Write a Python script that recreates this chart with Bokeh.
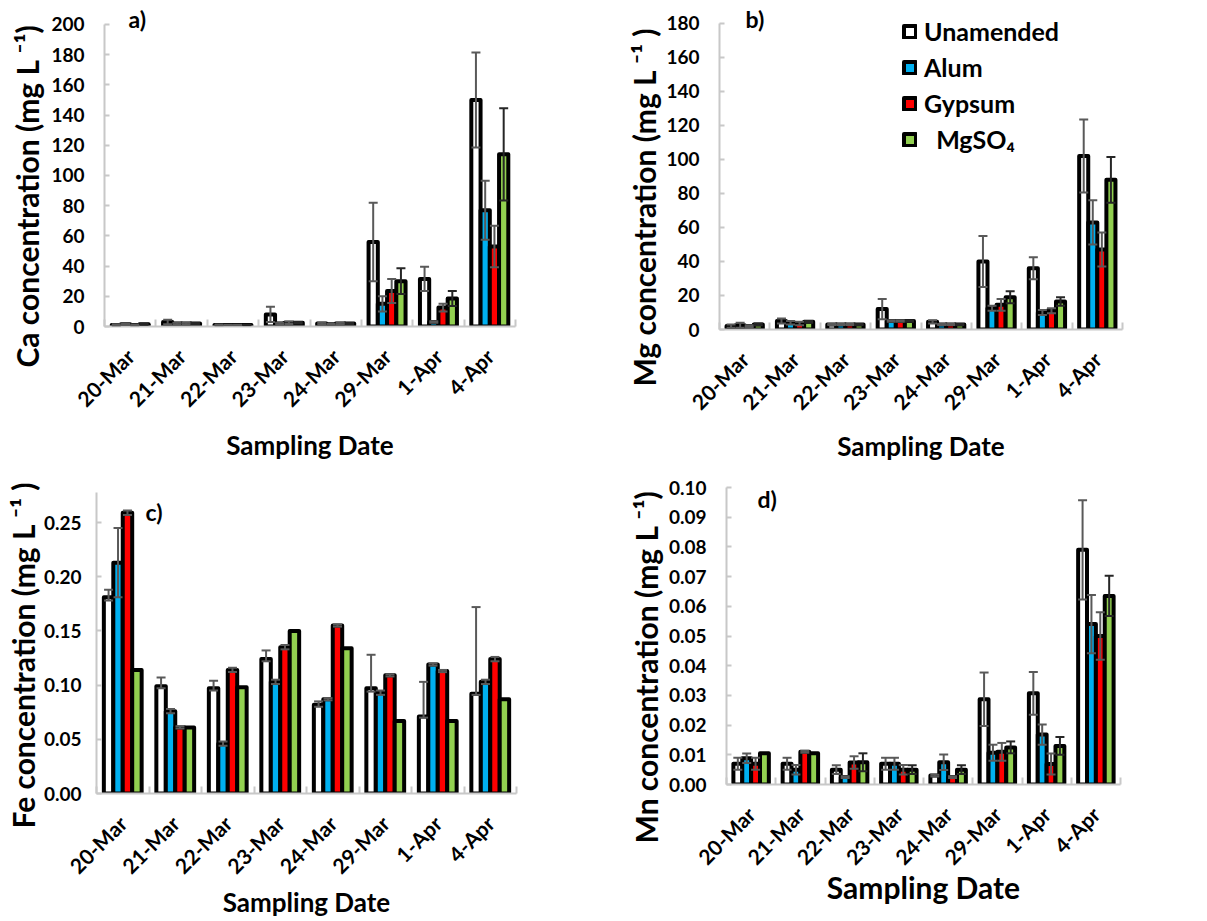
import numpy as np
from bokeh.plotting import figure
from bokeh.models import (ColumnDataSource, Range1d, FixedTicker, Whisker, TeeHead,
                          Label, Legend, LegendItem, CustomJSTickFormatter,
                          PrintfTickFormatter, Title)
from bokeh.layouts import row, column
from bokeh.embed import file_html
from bokeh.resources import INLINE

# ---------------------------------------------------------------- data
dates = ["20-Mar", "21-Mar", "22-Mar", "23-Mar", "24-Mar", "29-Mar", "1-Apr", "4-Apr"]
treatments = ["Unamended", "Alum", "Gypsum", "MgSO4"]
legend_labels = ["Unamended", "Alum", "Gypsum", "\u00a0\u00a0MgSO\u2084"]

# Ca (mg/L)
ca_unamended = [1.0, 3.0, 1.0, 8.0, 2.0, 56.0, 31.5, 150.0]
ca_alum = [1.5, 2.0, 1.0, 2.0, 1.5, 15.0, 3.0, 77.0]
ca_gypsum = [1.0, 2.0, 1.0, 2.5, 2.0, 23.5, 12.5, 53.0]
ca_mgso4 = [1.5, 2.0, 1.0, 2.5, 2.0, 30.0, 18.5, 114.0]
ca_unamended_err = [0.5, 1.5, 0.3, 5.0, 0.5, 26.0, 8.0, 31.5]
ca_alum_err = [0.3, 0.5, 0.2, 0.5, 0.3, 5.0, 0.5, 19.5]
ca_gypsum_err = [0.3, 0.5, 0.2, 0.8, 0.5, 8.0, 2.5, 13.7]
ca_mgso4_err = [0.3, 0.4, 0.2, 0.5, 0.3, 8.5, 5.0, 30.5]

# Mg (mg/L)
mg_unamended = [2.0, 5.0, 3.0, 12.0, 4.5, 40.0, 36.0, 102.0]
mg_alum = [2.5, 4.0, 3.0, 5.0, 3.0, 12.5, 10.0, 63.0]
mg_gypsum = [2.0, 3.5, 3.0, 5.0, 3.0, 14.5, 11.0, 47.0]
mg_mgso4 = [3.0, 4.5, 3.0, 5.0, 3.0, 19.0, 16.5, 88.0]
mg_unamended_err = [1.0, 1.5, 0.3, 6.0, 1.0, 15.0, 6.5, 21.5]
mg_alum_err = [1.5, 1.0, 0.3, 0.5, 0.3, 1.5, 1.5, 13.0]
mg_gypsum_err = [0.5, 1.0, 0.3, 0.5, 0.3, 3.5, 1.5, 10.0]
mg_mgso4_err = [0.5, 0.5, 0.3, 0.5, 0.3, 3.5, 2.5, 13.5]

# Fe (mg/L)
fe_unamended = [0.181, 0.099, 0.097, 0.124, 0.082, 0.097, 0.071, 0.092]
fe_alum = [0.213, 0.076, 0.046, 0.103, 0.087, 0.093, 0.119, 0.103]
fe_gypsum = [0.259, 0.061, 0.114, 0.135, 0.155, 0.109, 0.113, 0.124]
fe_mgso4 = [0.114, 0.061, 0.098, 0.150, 0.134, 0.067, 0.067, 0.087]
fe_unamended_err_hi = [0.007, 0.008, 0.007, 0.008, 0.003, 0.031, 0.032, 0.080]
fe_unamended_err_lo = [0.003, 0.002, 0.002, 0.002, 0.002, 0.003, 0.001, 0.001]
fe_alum_err = [0.032, 0.002, 0.002, 0.002, 0.001, 0.002, 0.001, 0.002]
fe_gypsum_err = [0.002, 0.001, 0.002, 0.002, 0.001, 0.001, 0.001, 0.002]
fe_mgso4_err = [0, 0, 0, 0, 0, 0, 0, 0]

# Mn (mg/L)
mn_unamended = [0.007, 0.007, 0.005, 0.007, 0.003, 0.0287, 0.0307, 0.079]
mn_alum = [0.0088, 0.005, 0.0025, 0.007, 0.0075, 0.0107, 0.0168, 0.054]
mn_gypsum = [0.007, 0.011, 0.0074, 0.005, 0.0025, 0.011, 0.0069, 0.050]
mn_mgso4 = [0.0105, 0.0105, 0.0075, 0.005, 0.005, 0.0125, 0.013, 0.0635]
mn_unamended_err = [0.002, 0.002, 0.0015, 0.002, 0.0003, 0.009, 0.0072, 0.0167]
mn_alum_err = [0.0016, 0.0016, 0.0003, 0.002, 0.0026, 0.0027, 0.0034, 0.0098]
mn_gypsum_err = [0.002, 0.0003, 0.0021, 0.0016, 0.0003, 0.003, 0.0035, 0.008]
mn_mgso4_err = [0, 0, 0.003, 0.0015, 0.0015, 0.002, 0.003, 0.0068]

# ---------------------------------------------------------------- style
FONT = "Lato"
fills = ["#FFFFFF", "#00B0F0", "#FF0000", "#92D050"]
err_colors = ["#595959", "#595959", "#595959", "#262626"]
axis_gray = "#C8C8C8"
offsets = [-0.27, -0.09, 0.09, 0.27]
bar_w = 0.18


def build_panel(series, err_hi, err_lo, axis_top, y_ticks, y_fmt, size, geom,
                ytitle, ytitle_offset, ytitle_standoff, ytick_standoff,
                xtitle_size, xtitle_standoff, tag, tag_xy,
                with_legend=False, legend_xy=(0, 0)):
    """geom = (left, right, frame_top, top_tick_px, zero_px) in figure pixels."""
    width, height = size
    left, right, frame_top, top_tick_px, zero_px = geom
    # the frame reaches a little above the last tick so the panel letter fits;
    # the axis line itself stops at axis_top (see bounds below)
    y_end = axis_top * (zero_px - frame_top) / (zero_px - top_tick_px)
    n = len(dates)
    p = figure(width=width, height=height, output_backend="svg", toolbar_location=None,
               x_range=Range1d(0, n), y_range=Range1d(0, y_end),
               min_border_left=left, min_border_right=right,
               min_border_top=frame_top, min_border_bottom=height - zero_px)
    p.outline_line_color = None
    p.xgrid.visible = False
    p.ygrid.visible = False
    p.background_fill_color = "white"
    p.border_fill_color = "white"

    centers = np.arange(n) + 0.5
    renderers = []
    for k in range(4):
        src = ColumnDataSource(dict(x=centers + offsets[k], top=series[k]))
        r = p.vbar(x="x", top="top", width=bar_w, bottom=0, source=src,
                   fill_color=fills[k], line_color="black", line_width=4,
                   line_join="round")
        renderers.append(r)

    for k in range(4):
        xs, hi, lo = [], [], []
        for i in range(n):
            if err_hi[k][i] > 0:
                xs.append(centers[i] + offsets[k])
                hi.append(series[k][i] + err_hi[k][i])
                lo.append(series[k][i] - err_lo[k][i])
        if not xs:
            continue
        esrc = ColumnDataSource(dict(x=xs, hi=hi, lo=lo))
        c = err_colors[k]
        w = Whisker(source=esrc, base="x", upper="hi", lower="lo", level="annotation",
                    line_color=c, line_width=2,
                    upper_head=TeeHead(size=9, line_color=c, line_width=2),
                    lower_head=TeeHead(size=9, line_color=c, line_width=2))
        p.add_layout(w)

    # y axis
    ya = p.yaxis[0]
    ya.bounds = (0, axis_top)
    ya.ticker = FixedTicker(ticks=y_ticks)
    ya.formatter = PrintfTickFormatter(format=y_fmt)
    ya.axis_line_color = axis_gray
    ya.axis_line_width = 2
    ya.major_tick_line_color = axis_gray
    ya.major_tick_line_width = 2
    ya.major_tick_in = 5
    ya.major_tick_out = 0
    ya.minor_tick_line_color = None
    ya.major_label_text_font = FONT
    ya.major_label_text_font_style = "bold"
    ya.major_label_text_font_size = "19px"
    ya.major_label_text_color = "black"
    ya.major_label_standoff = ytick_standoff

    # x axis: labels at group centres, ticks at group boundaries
    xa = p.xaxis[0]
    xa.ticker = FixedTicker(ticks=list(centers), minor_ticks=list(range(n + 1)))
    xa.formatter = CustomJSTickFormatter(args=dict(labels=dates),
                                         code="return labels[Math.floor(tick)];")
    xa.axis_line_color = axis_gray
    xa.axis_line_width = 2
    xa.major_tick_line_color = None
    xa.minor_tick_line_color = axis_gray
    xa.minor_tick_line_width = 2
    xa.minor_tick_in = 7
    xa.minor_tick_out = 0
    xa.major_label_orientation = np.pi / 4
    xa.major_label_text_font = FONT
    xa.major_label_text_font_style = "bold"
    xa.major_label_text_font_size = "21px"
    xa.major_label_text_color = "black"
    xa.major_label_standoff = 20
    xa.axis_label = "Sampling Date"
    xa.axis_label_standoff = xtitle_standoff
    xa.axis_label_text_font = FONT
    xa.axis_label_text_font_style = "bold"
    xa.axis_label_text_font_size = xtitle_size
    xa.axis_label_text_color = "black"

    p.add_layout(Title(text=ytitle, align="left", offset=ytitle_offset,
                       standoff=ytitle_standoff, text_font=FONT, text_font_style="bold",
                       text_font_size="30px", text_color="black"), "left")
    p.add_layout(Label(x=tag_xy[0], y=tag_xy[1], x_units="screen", y_units="screen",
                       text=tag, text_align="left", text_baseline="alphabetic",
                       text_font=FONT, text_font_style="bold", text_font_size="23px",
                       text_color="black"))

    if with_legend:
        items = [LegendItem(label=legend_labels[k], renderers=[renderers[k]]) for k in range(4)]
        lg = Legend(items=items, location=legend_xy, background_fill_alpha=0,
                    border_line_color=None, padding=0, margin=0, spacing=6,
                    glyph_width=15, glyph_height=15, label_height=30,
                    label_standoff=7, label_text_font=FONT,
                    label_text_font_style="bold", label_text_font_size="25px",
                    label_text_color="black")
        p.add_layout(lg)
    return p


# Plots sharing a row share their top/bottom borders, so the differing
# baselines are obtained through the figure heights instead.
pa = build_panel([ca_unamended, ca_alum, ca_gypsum, ca_mgso4],
                 [ca_unamended_err, ca_alum_err, ca_gypsum_err, ca_mgso4_err],
                 [ca_unamended_err, ca_alum_err, ca_gypsum_err, ca_mgso4_err],
                 200, list(range(0, 201, 20)), "%d", (600, 463), (104, 85, 4, 24, 327),
                 "Ca concentration (mg L \u207b\u00b9)", -41, 8, 20, "26px", 6,
                 "a)", (24, 308))

pb = build_panel([mg_unamended, mg_alum, mg_gypsum, mg_mgso4],
                 [mg_unamended_err, mg_alum_err, mg_gypsum_err, mg_mgso4_err],
                 [mg_unamended_err, mg_alum_err, mg_gypsum_err, mg_mgso4_err],
                 180, list(range(0, 181, 20)), "%d", (607, 466), (119, 85, 4, 23, 330),
                 "Mg concentration (mg L \u207b\u00b9 )", -57, 4, 20, "26px", 4,
                 "b)", (26, 311), with_legend=True, legend_xy=(183, 175))

pc = build_panel([fe_unamended, fe_alum, fe_gypsum, fe_mgso4],
                 [fe_unamended_err_hi, fe_alum_err, fe_gypsum_err, fe_mgso4_err],
                 [fe_unamended_err_lo, fe_alum_err, fe_gypsum_err, fe_mgso4_err],
                 0.278, [round(0.05 * i, 2) for i in range(6)], "%.2f", (600, 455),
                 (96, 84, 14, 25.7, 327),
                 "Fe concentration (mg L \u207b\u00b9 )", -35, 0, 15, "26px", -4,
                 "c)", (49, 282))

pd_ = build_panel([mn_unamended, mn_alum, mn_gypsum, mn_mgso4],
                  [mn_unamended_err, mn_alum_err, mn_gypsum_err, mn_mgso4_err],
                  [mn_unamended_err, mn_alum_err, mn_gypsum_err, mn_mgso4_err],
                  0.10, [round(0.01 * i, 2) for i in range(11)], "%.2f", (607, 446),
                  (126, 87, 14, 21, 318),
                  "Mn concentration (mg L \u207b\u00b9)", -59, 4, 20, "30px", -12,
                  "d)", (31, 286))

layout = column(row(pa, pb, spacing=0), row(pc, pd_, spacing=0), spacing=0)

with open("out.html", "w") as f:
    f.write(file_html(layout, INLINE))
